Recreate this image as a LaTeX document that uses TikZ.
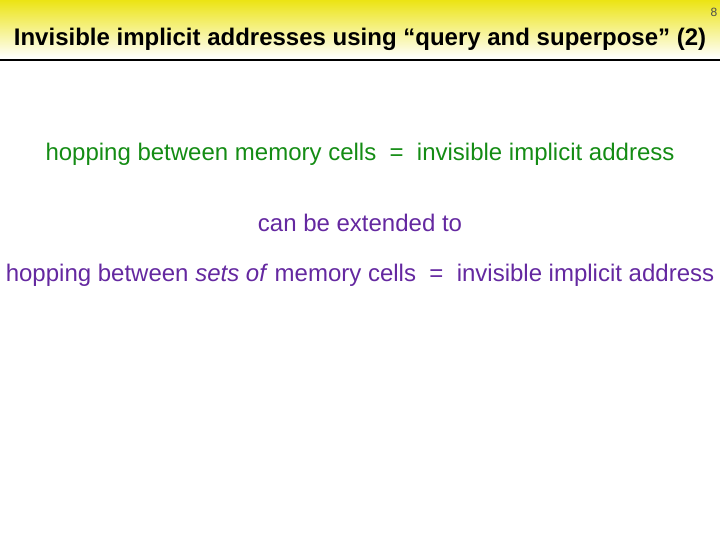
\documentclass[tikz,border=0pt]{standalone}
\usepackage{fontspec}
\setmainfont{Liberation Sans}
\definecolor{hdr}{RGB}{236,228,20}
\definecolor{grn}{RGB}{20,140,20}
\definecolor{pur}{RGB}{100,40,160}
\begin{document}
\begin{tikzpicture}[x=1bp,y=-1bp,
  body/.style={font=\fontsize{24bp}{28bp}\selectfont,inner sep=0pt,anchor=base}]
\useasboundingbox (0,0) rectangle (720,540);
\shade[top color=hdr,bottom color=white] (0,0) rectangle (720,58);
\draw[line width=2bp] (0,60) -- (720,60);
\node[font=\bfseries\fontsize{24bp}{28bp}\selectfont,anchor=base,inner sep=0pt] (title) at (360,46) {Invisible implicit addresses using “query and superpose” (2)};
\node[font=\fontsize{12bp}{14bp}\selectfont,anchor=base,inner sep=0pt,text=black!70] (pg) at (714,17) {8};
\node[body,text=grn] (l1) at (360,161) {hopping between memory cells \ = \ invisible implicit address};
\node[body,text=pur] (l2) at (360,232) {can be extended to};
\node[body,text=pur] (l3) at (360,282) {hopping between \textit{sets of} memory cells \ = \ invisible implicit address};
\end{tikzpicture}
\end{document}
